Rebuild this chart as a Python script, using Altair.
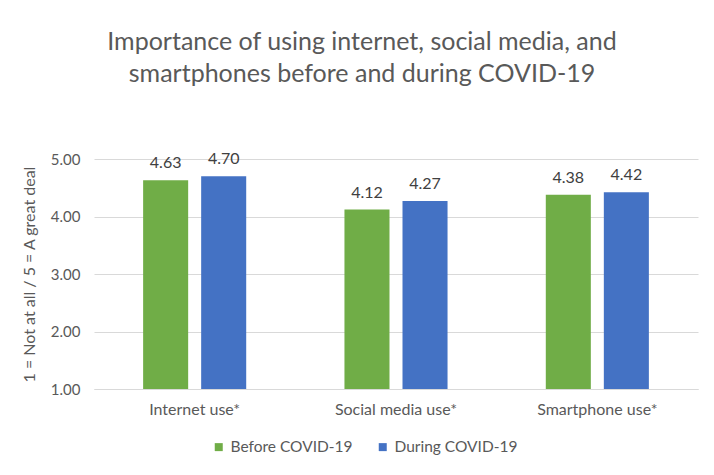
import altair as alt
import pandas as pd

categories = ["Internet use*", "Social media use*", "Smartphone use*"]
series = ["Before COVID-19", "During COVID-19"]
before = [4.63, 4.12, 4.38]
during = [4.70, 4.27, 4.42]
colors = ["#70AD47", "#4472C4"]
y_ticks = [1, 2, 3, 4, 5]

rows = []
for c, b, d in zip(categories, before, during):
    rows.append({"category": c, "series": series[0], "value": b})
    rows.append({"category": c, "series": series[1], "value": d})
df = pd.DataFrame(rows)

FONT = "Lato"
GRAY = "#595959"

x_enc = alt.X(
    "category:N",
    sort=categories,
    scale=alt.Scale(paddingInner=0.488, paddingOuter=0.244),
    axis=alt.Axis(
        title=None, labelAngle=0, ticks=False, domainColor="#D9D9D9",
        labelFontSize=16, labelColor=GRAY, labelFont=FONT, labelPadding=12,
    ),
)
xoff = alt.XOffset(
    "series:N", sort=series,
    scale=alt.Scale(paddingInner=0.224, paddingOuter=0),
)
y_enc = alt.Y(
    "value:Q",
    scale=alt.Scale(domain=[1, 5], zero=False, nice=False),
    axis=alt.Axis(
        values=y_ticks, format=".2f", title="1 = Not at all / 5 = A great deal",
        titleFontSize=16, titleColor=GRAY, titleFont=FONT, titleFontWeight="normal",
        titlePadding=13, labelFontSize=15, labelColor=GRAY, labelFont=FONT,
        labelPadding=14, ticks=False, domain=False, gridColor="#D9D9D9",
    ),
)

base = alt.Chart(df)
bars = base.mark_bar().encode(
    x=x_enc,
    xOffset=xoff,
    y=y_enc,
    y2=alt.datum(1),
    color=alt.Color(
        "series:N", sort=series,
        scale=alt.Scale(domain=series, range=colors),
        legend=alt.Legend(
            title=None, orient="none", direction="horizontal", legendX=117, legendY=280,
            symbolType="square", symbolSize=64, symbolStrokeWidth=0,
            labelFontSize=15.5, labelColor=GRAY, labelFont=FONT, columnPadding=22,
            labelOffset=4, padding=0,
        ),
    ),
)
labels = base.mark_text(
    dy=-12, baseline="alphabetic", fontSize=16, font=FONT, color="#404040"
).encode(
    x=alt.X("category:N", sort=categories),
    xOffset=alt.XOffset("series:N", sort=series),
    y=alt.Y("value:Q"),
    text=alt.Text("value:Q", format=".2f"),
)

chart = (
    alt.layer(bars, labels)
    .properties(
        width=604,
        height=230,
        title=alt.Title(
            ["Importance of using internet, social media, and",
             "smartphones before and during COVID-19"],
            fontSize=25, font=FONT, fontWeight="normal", color=GRAY, lineHeight=32,
            anchor="middle", dx=-34, offset=64,
        ),
        autosize=alt.AutoSizeParams(type="none"),
        padding={"left": 86, "top": 151, "right": 8, "bottom": 70},
        background="white",
    )
    .configure_view(stroke=None)
)

chart.save("out.html", embed_options={"renderer": "svg", "actions": False})
